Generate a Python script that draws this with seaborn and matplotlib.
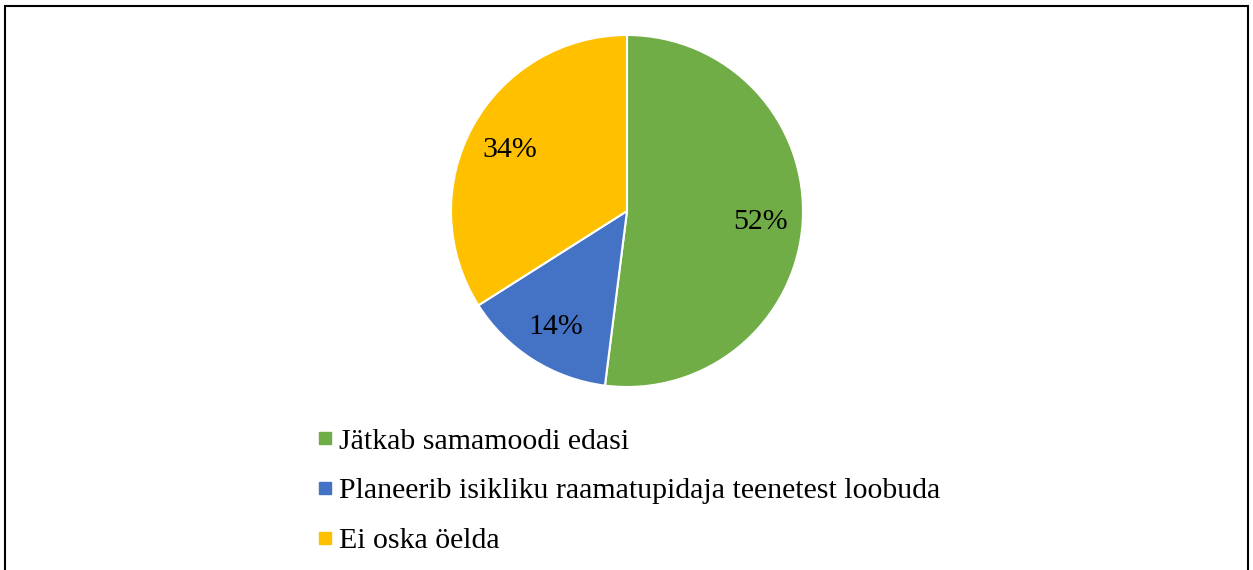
import matplotlib
matplotlib.use("Agg")
import matplotlib.pyplot as plt
import seaborn as sns
from matplotlib.lines import Line2D
from matplotlib.patches import Rectangle

# data
labels = ["Jätkab samamoodi edasi",
          "Planeerib isikliku raamatupidaja teenetest loobuda",
          "Ei oska öelda"]
shares = [52, 14, 34]
colors = ["#70AD47", "#4472C4", "#FFC000"]

sns.set_theme(style="white")
plt.rcParams['font.family'] = ['Liberation Serif', 'DejaVu Serif']
plt.rcParams['text.color'] = 'black'

fig = plt.figure(figsize=(12.53, 5.70), dpi=100)
ax = fig.add_axes([451 / 1253, 1 - 387 / 570, 352 / 1253, 352 / 570])

palette = sns.color_palette(colors)
wedges, texts, autotexts = ax.pie(
    shares, colors=palette, startangle=90, counterclock=False,
    autopct=lambda p: f"{p:.0f}%", pctdistance=0.76,
    wedgeprops=dict(edgecolor="white", linewidth=1.5),
    textprops=dict(fontsize=21.5, color="black"))
for t in autotexts:
    t.set_va("center_baseline")
ax.set_xlim(-1, 1)
ax.set_ylim(-1, 1)
ax.set_aspect("equal")

# legend below the pie
handles = [Line2D([0], [0], marker="s", linestyle="none", markersize=8,
                  markerfacecolor=c, markeredgecolor=c) for c in colors]
fig.legend(handles, labels, loc="upper left",
           bbox_to_anchor=(318 / 1253, 1 - 428 / 570),
           frameon=False, fontsize=21.5, handlelength=0.5, handletextpad=0.2,
           labelspacing=0.76, borderpad=0, borderaxespad=0, labelcolor="black")

# outer frame
fig.patches.append(Rectangle((5 / 1253, -0.1), 1243 / 1253, 1.1 - 6 / 570,
                             transform=fig.transFigure, fill=False,
                             edgecolor="black", linewidth=1.5))

fig.savefig("out.png", dpi=100)
